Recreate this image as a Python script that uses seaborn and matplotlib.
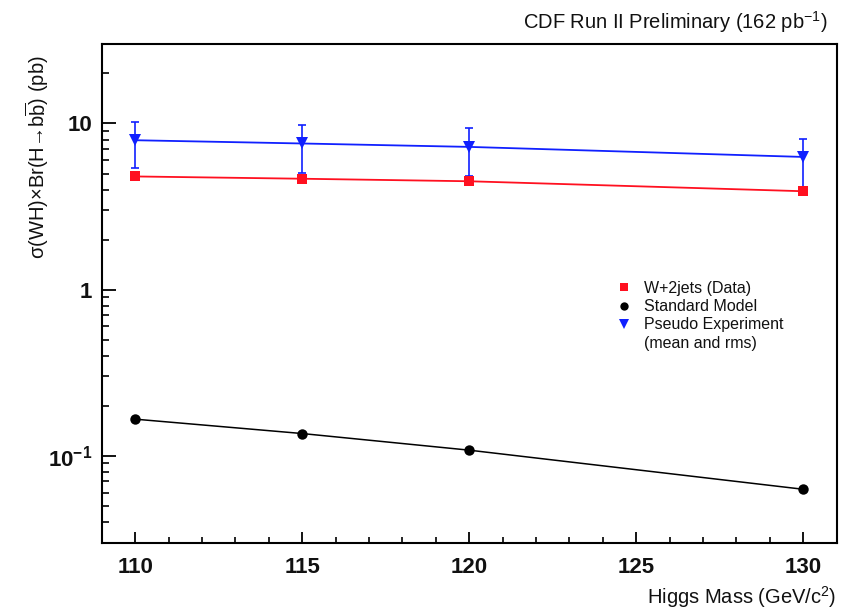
import numpy as np
import pandas as pd
import matplotlib
matplotlib.use("Agg")
import matplotlib.pyplot as plt
from matplotlib.lines import Line2D
from matplotlib.ticker import FixedLocator, NullFormatter, LogLocator
import seaborn as sns

# Higgs mass points (GeV/c^2)
higgs_mass = [110, 115, 120, 130]

# W+2jets observed limits (pb)
data_limit = [4.80, 4.65, 4.49, 3.91]

# Standard Model prediction (pb)
sm_xsec = [0.166, 0.136, 0.108, 0.0628]

# Pseudo-experiment mean and rms band edges (pb)
pseudo_mean = [7.93, 7.58, 7.23, 6.29]
pseudo_upper = [10.2, 9.77, 9.46, 8.07]
pseudo_lower = [5.40, 5.01, 4.81, 4.13]

x_major_ticks = [110, 115, 120, 125, 130]
y_major_ticks = [0.1, 1, 10]
y_tick_labels = [r"$\mathbf{10^{-1}}$", "1", "10"]

sns.set_theme(style="white")
plt.rcParams["font.family"] = ["Liberation Sans", "DejaVu Sans"]
plt.rcParams["mathtext.fontset"] = "custom"
plt.rcParams["mathtext.rm"] = "Liberation Sans"
plt.rcParams["mathtext.it"] = "Liberation Sans:italic"
plt.rcParams["mathtext.bf"] = "Liberation Sans:bold"

df = pd.DataFrame({
    "mass": higgs_mass * 3,
    "value": data_limit + sm_xsec + pseudo_mean,
    "series": (["data"] * 4) + (["sm"] * 4) + (["pseudo"] * 4),
})

fig = plt.figure(figsize=(8.48, 6.09), dpi=100)
ax = fig.add_axes([101.7 / 848, 1 - 543.3 / 609, (836.7 - 101.7) / 848, (543.3 - 44) / 609])

red = "#ff1020"
blue = "#1020ff"

# vertical rms bars for the pseudo experiments
yerr = [np.array(pseudo_mean) - np.array(pseudo_lower),
        np.array(pseudo_upper) - np.array(pseudo_mean)]
ax.errorbar(higgs_mass, pseudo_mean, yerr=yerr, fmt="none", ecolor=blue,
            elinewidth=1.2, capsize=2.6, capthick=1.2, zorder=2)

sns.lineplot(data=df[df.series == "data"], x="mass", y="value", ax=ax,
             color=red, marker="s", markersize=7.8, markeredgewidth=0,
             linewidth=1.3, zorder=3)
sns.lineplot(data=df[df.series == "pseudo"], x="mass", y="value", ax=ax,
             color=blue, marker="v", markersize=9, markeredgewidth=0,
             linewidth=1.3, zorder=3)
sns.lineplot(data=df[df.series == "sm"], x="mass", y="value", ax=ax,
             color="black", marker="o", markersize=7.5, markeredgewidth=0,
             linewidth=1.1, zorder=3)

ax.set_yscale("log")
ax.set_xlim(109, 131)
ax.set_ylim(0.0297, 30.1)

ax.xaxis.set_major_locator(FixedLocator(x_major_ticks))
ax.xaxis.set_minor_locator(FixedLocator(np.arange(109, 132, 1)))
ax.yaxis.set_major_locator(FixedLocator(y_major_ticks))
ax.set_yticklabels(y_tick_labels)
ax.yaxis.set_minor_locator(LogLocator(base=10, subs=np.arange(2, 10)))
ax.yaxis.set_minor_formatter(NullFormatter())

ax.tick_params(axis="both", which="both", direction="in", color="black",
               bottom=True, left=True, top=False, right=False)
ax.tick_params(axis="y", which="major", length=10, width=1.3, labelsize=16, pad=7)
ax.tick_params(axis="y", which="minor", length=5, width=1.2)
ax.tick_params(axis="x", which="major", length=8, width=1.3, labelsize=16, pad=10)
ax.tick_params(axis="x", which="minor", length=4, width=1.2)
for lab in ax.get_xticklabels() + ax.get_yticklabels():
    lab.set_fontweight("bold")
    lab.set_color("#111111")

for side in ["left", "bottom", "top", "right"]:
    ax.spines[side].set_visible(True)
    ax.spines[side].set_color("black")
    ax.spines[side].set_linewidth(1.5)

ax.set_xlabel("")
ax.set_ylabel("")

fig.text(37 / 848, 1 - 157 / 609,
         r"σ(WH)×Br(H→b$\overline{\mathrm{b}}$) (pb)",
         rotation=90, ha="center", va="center", fontsize=14.5, color="#111111")

fig.text(828 / 848, 1 - 22 / 609, r"CDF Run II Preliminary (162 pb$^{-1}$)",
         ha="right", va="center", fontsize=14.5, color="#111111")

fig.text(836 / 848, 1 - 597 / 609, r"Higgs Mass (GeV/c$^{2}$)",
         ha="right", va="center", fontsize=14.5, color="#111111")

handles = [
    Line2D([], [], linestyle="none", marker="s", color=red, markersize=6, markeredgewidth=0),
    Line2D([], [], linestyle="none", marker="o", color="black", markersize=6, markeredgewidth=0),
    Line2D([], [], linestyle="none", marker="v", color=blue, markersize=6.5, markeredgewidth=0),
    Line2D([], [], linestyle="none"),
]
labels = ["W+2jets (Data)", "Standard Model", "Pseudo Experiment", "(mean and rms)"]
leg = ax.legend(handles, labels, loc="upper left",
                bbox_to_anchor=((618 - 101.7) / (836.7 - 101.7), (543.3 - 281) / (543.3 - 44)),
                frameon=False, handlelength=0.8, handletextpad=0.8,
                labelspacing=0.2, borderaxespad=0, borderpad=0,
                prop={"size": 11.5})
for t in leg.get_texts():
    t.set_color("#111111")

fig.savefig("out.png", dpi=100, facecolor="white")
